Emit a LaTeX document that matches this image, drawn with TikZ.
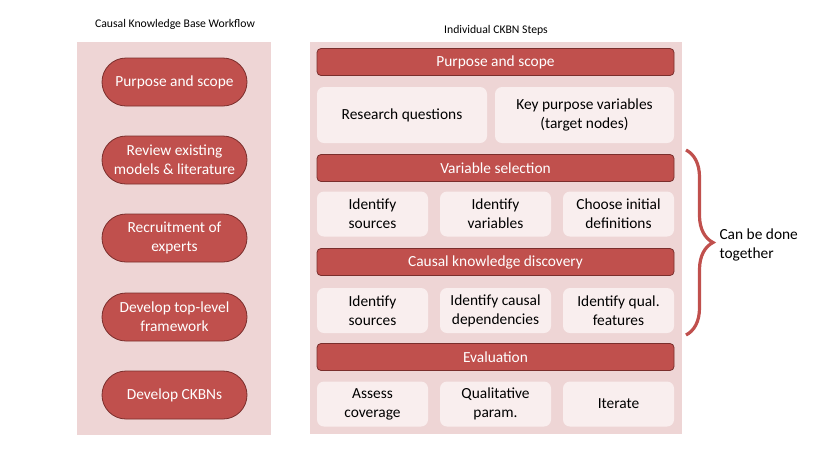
\documentclass[tikz,border=0pt]{standalone}
\usepackage{fontspec}
\setmainfont{Carlito}
\usetikzlibrary{decorations.pathreplacing}
\definecolor{panelbg}{HTML}{EED5D5}
\definecolor{hdrfill}{HTML}{C0504D}
\definecolor{hdrdraw}{HTML}{7A2E2C}
\definecolor{subfill}{HTML}{F9EEEE}
\begin{document}
\begin{tikzpicture}[x=1pt,y=-1pt,
  txt/.style={font=\fontsize{15.4}{19}\selectfont},
  panel/.style={fill=panelbg,draw=none},
  pill/.style={txt,fill=hdrfill,draw=hdrdraw,line width=0.8pt,rounded corners=24pt,minimum width=145pt,minimum height=48pt,text=white,align=center,inner sep=0pt},
  hdr/.style={txt,fill=hdrfill,draw=hdrdraw,line width=0.8pt,rounded corners=4pt,minimum width=357pt,minimum height=27pt,text=white,inner sep=0pt},
  sub/.style={txt,fill=subfill,draw=none,rounded corners=7pt,minimum height=45pt,align=center,inner sep=0pt},
  ttl/.style={font=\fontsize{11.7}{14}\selectfont},
  brc/.style={draw=hdrfill,line width=3.2pt,decorate,decoration={brace,amplitude=27pt}}]
\useasboundingbox (0,0) rectangle (830,467);
% panels
\fill[panel] (77,42) rectangle (271,435);
\fill[panel] (310,42) rectangle (682,434);
\node[ttl] (t1) at (175,24) {Causal Knowledge Base Workflow};
\node[ttl] (t2) at (496,30) {Individual CKBN Steps};
% left pills
\node[pill] (p1) at (174.5,82) {Purpose and scope};
\node[pill] (p2) at (174.5,160) {Review existing\\models \& literature};
\node[pill] (p3) at (174.5,238) {Recruitment of\\experts};
\node[pill] (p4) at (174.5,317) {Develop top-level\\framework};
\node[pill] (p5) at (174.5,395) {Develop CKBNs};
% right headers
\node[hdr] (h1) at (495.5,62) {Purpose and scope};
\node[hdr] (h2) at (495.5,168) {Variable selection};
\node[hdr] (h3) at (495.5,262) {Causal knowledge discovery};
\node[hdr] (h4) at (495.5,357) {Evaluation};
% row 1
\node[sub,minimum width=170pt,minimum height=56pt] (r1a) at (402,115) {Research questions};
\node[sub,minimum width=179pt,minimum height=56pt] (r1b) at (584.5,115) {Key purpose variables\\(target nodes)};
% row 2
\node[sub,minimum width=111pt] (r2a) at (372.5,214) {Identify\\sources};
\node[sub,minimum width=111pt] (r2b) at (495.5,214) {Identify\\variables};
\node[sub,minimum width=111pt] (r2c) at (618.5,214) {Choose initial\\definitions};
% row 3
\node[sub,minimum width=111pt] (r3a) at (372.5,310.5) {Identify\\sources};
\node[sub,minimum width=111pt] (r3b) at (495.5,310.5) {Identify causal\\dependencies};
\node[sub,minimum width=111pt] (r3c) at (618.5,310.5) {Identify qual.\\features};
% row 4
\node[sub,minimum width=111pt] (r4a) at (372.5,404) {Assess\\coverage};
\node[sub,minimum width=111pt] (r4b) at (495.5,404) {Qualitative\\param.};
\node[sub,minimum width=111pt] (r4c) at (618.5,404) {Iterate};
% brace
\coordinate (bt) at (686,150);
\coordinate (bb) at (686,335);
\draw[brc] (bt) -- (bb);
\node[txt,align=left,anchor=west] (note) at (716,245) {Can be done\\together};
\end{tikzpicture}
\end{document}
